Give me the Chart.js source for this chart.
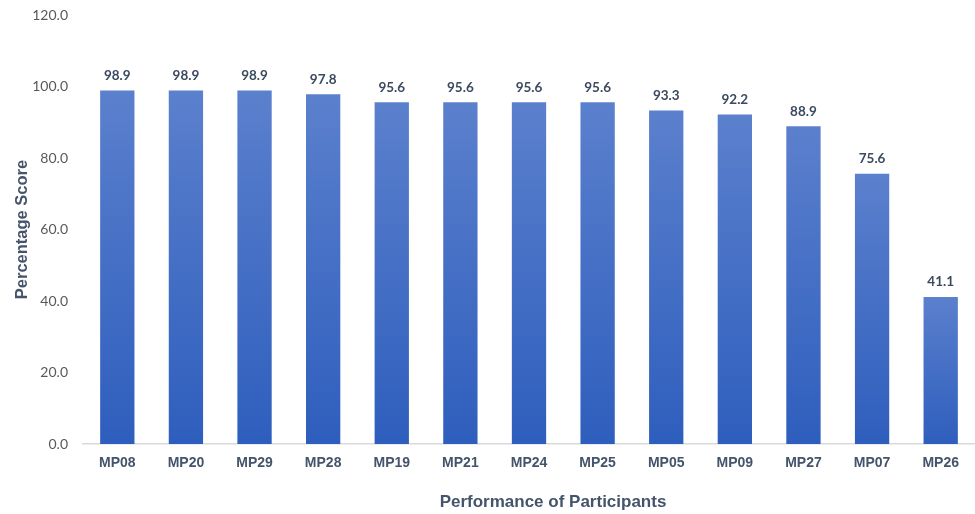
<!DOCTYPE html>
<html>
<head>
<meta charset="utf-8">
<script src="https://cdn.jsdelivr.net/npm/chart.js@4/dist/chart.umd.min.js"></script>
<style>
  html, body { margin: 0; padding: 0; background: #ffffff; }
  #wrap { width: 975px; height: 514px; position: relative; }
</style>
</head>
<body>
<div id="wrap"><canvas id="chart" width="975" height="514"></canvas></div>
<script>
// Participant codes, ordered by score
const participants = ['MP08', 'MP20', 'MP29', 'MP28', 'MP19', 'MP21', 'MP24', 'MP25', 'MP05', 'MP09', 'MP27', 'MP07', 'MP26'];
// Percentage score per participant
const scores = [98.9, 98.9, 98.9, 97.8, 95.6, 95.6, 95.6, 95.6, 93.3, 92.2, 88.9, 75.6, 41.1];
// Y-axis range and step
const yTicks = [0, 20, 40, 60, 80, 100, 120];

const xTitle = 'Performance of Participants';
const yTitle = 'Percentage Score';

const TEXT_DARK = '#44546a';

// Each bar gets its own vertical gradient, lighter at the top
function barGradient(ctx) {
  const chart = ctx.chart;
  if (!chart.chartArea || ctx.type !== 'data') return '#4470c8';
  const yScale = chart.scales.y;
  const top = yScale.getPixelForValue(ctx.raw);
  const base = yScale.getPixelForValue(0);
  const g = chart.ctx.createLinearGradient(0, top, 0, base);
  g.addColorStop(0, '#5b80cd');
  g.addColorStop(1, '#2e5ebd');
  return g;
}

// Value labels above each bar
const valueLabels = {
  id: 'valueLabels',
  afterDatasetsDraw(chart) {
    const { ctx } = chart;
    const meta = chart.getDatasetMeta(0);
    ctx.save();
    ctx.font = 'bold 13.5px Lato, "Open Sans", sans-serif';
    ctx.fillStyle = '#3b4a5e';
    ctx.textAlign = 'center';
    ctx.textBaseline = 'middle';
    meta.data.forEach((bar, i) => {
      ctx.fillText(scores[i].toFixed(1), bar.x, bar.y - 15);
    });
    ctx.restore();
  }
};

// Horizontal axis caption, sitting slightly right of the plot centre
const xCaption = {
  id: 'xCaption',
  afterDraw(chart) {
    const { ctx } = chart;
    const xs = chart.scales.x;
    ctx.save();
    ctx.font = 'bold 17px "Liberation Sans", Arial, sans-serif';
    ctx.fillStyle = TEXT_DARK;
    ctx.textAlign = 'center';
    ctx.textBaseline = 'middle';
    ctx.fillText(xTitle, (xs.left + xs.right) / 2 + 24, 502);
    ctx.restore();
  }
};

new Chart(document.getElementById('chart'), {
  type: 'bar',
  data: {
    labels: participants,
    datasets: [{
      data: scores,
      backgroundColor: barGradient,
      borderWidth: 0,
      barPercentage: 0.5,
      categoryPercentage: 1.0
    }]
  },
  options: {
    responsive: false,
    animation: false,
    devicePixelRatio: 1,
    layout: { padding: { top: 15, right: 0, bottom: 0, left: 0 } },
    plugins: {
      legend: { display: false },
      tooltip: { enabled: false }
    },
    scales: {
      x: {
        grid: { display: false, drawTicks: false },
        border: { display: true, color: '#d9d9d9', width: 1.5 },
        ticks: {
          color: TEXT_DARK,
          padding: 11,
          font: { family: '"Liberation Sans", Arial, sans-serif', size: 14, weight: 'bold' }
        },
        afterFit(scale) { scale.height = 70; }
      },
      y: {
        min: yTicks[0],
        max: yTicks[yTicks.length - 1],
        afterBuildTicks(scale) { scale.ticks = yTicks.map(v => ({ value: v })); },
        grid: { display: false, drawTicks: false },
        border: { display: false },
        ticks: {
          color: '#595959',
          padding: 15,
          font: { family: 'Lato, "Open Sans", sans-serif', size: 14 },
          callback: v => Number(v).toFixed(1)
        },
        title: {
          display: true,
          text: yTitle,
          color: TEXT_DARK,
          padding: { top: 13, bottom: 0 },
          font: { family: '"Liberation Sans", Arial, sans-serif', size: 16.5, weight: 'bold' }
        },
        afterFit(scale) {
          scale.width = 83;
          scale.paddingTop = 0;
          scale.paddingBottom = 0;
        }
      }
    }
  },
  plugins: [valueLabels, xCaption]
});
</script>
</body>
</html>
